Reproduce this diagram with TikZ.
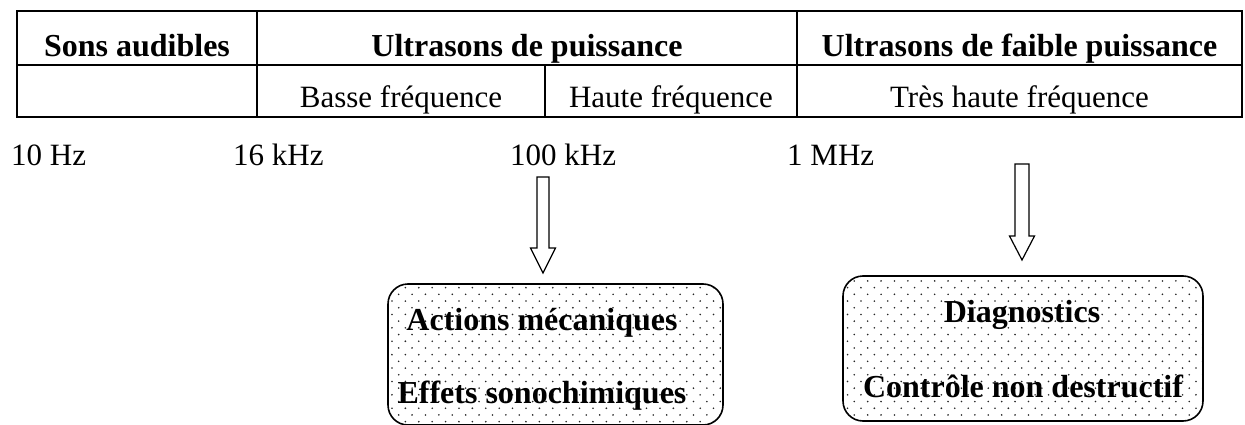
\documentclass[tikz,border=0pt]{standalone}
\usepackage{fontspec}
\setmainfont{Liberation Serif}
\usetikzlibrary{patterns,calc}
\pgfdeclarepatternformonly{stagdots}{\pgfqpoint{-1pt}{-1pt}}{\pgfqpoint{14.4pt}{14.4pt}}{\pgfqpoint{13.4pt}{13.4pt}}{%
  \pgfpathcircle{\pgfqpoint{3.35pt}{3.35pt}}{0.9pt}%
  \pgfpathcircle{\pgfqpoint{10.05pt}{10.05pt}}{0.9pt}%
  \pgfusepath{fill}}
\tikzset{
  tline/.style={line width=2pt},
  hdr/.style={font=\fontsize{32}{38}\selectfont\bfseries, anchor=base, inner sep=0pt},
  sub/.style={font=\fontsize{31}{37}\selectfont, anchor=base, inner sep=0pt},
  freq/.style={font=\fontsize{31}{37}\selectfont, anchor=base west, inner sep=0pt},
  dotbox/.style={draw, line width=1.6pt, rounded corners=20pt, pattern=stagdots, pattern color=black!85, inner sep=0pt},
  boxtxt/.style={font=\fontsize{32}{38}\selectfont\bfseries, anchor=base, inner sep=0pt},
  blockarrow/.style={draw, line width=1.2pt, fill=white, line join=miter}
}
\begin{document}
\begin{tikzpicture}[x=1pt,y=-1pt]
\useasboundingbox (0,0) rectangle (1245,425);
% table
\draw[tline] (17,11) rectangle (1242,117);
\draw[tline] (17,65) -- (1242,65);
\draw[tline] (257,11) -- (257,117);
\draw[tline] (797,11) -- (797,117);
\draw[tline] (545,65) -- (545,117);
\node[hdr] (h1) at (137,57) {Sons audibles};
\node[hdr] (h2) at (527,57) {Ultrasons de puissance};
\node[hdr] (h3) at (1019.5,57) {Ultrasons de faible puissance};
\node[sub] (s1) at (401,108) {Basse fréquence};
\node[sub] (s2) at (671,108) {Haute fréquence};
\node[sub] (s3) at (1019.5,108) {Très haute fréquence};
% frequencies
\node[freq] (f1) at (11,165) {10 Hz};
\node[freq] (f2) at (233,165) {16 kHz};
\node[freq] (f3) at (510,165) {100 kHz};
\node[freq] (f4) at (787,165) {1 MHz};
% boxes
\node[dotbox, minimum width=335pt, minimum height=141pt] (b1) at (555.5,354.5) {};
\node[dotbox, minimum width=360pt, minimum height=145pt] (b2) at (1023,348.5) {};
\node[boxtxt] (t1) at (542,330) {Actions mécaniques};
\node[boxtxt] (t2) at (542,403) {Effets sonochimiques};
\node[boxtxt] (t3) at (1022,322) {Diagnostics};
\node[boxtxt] (t4) at (1023,397) {Contrôle non destructif};
% block arrows
\coordinate (a1s) at (543,177);
\coordinate (a1t) at (543,273);
\coordinate (a2s) at (1022,164);
\coordinate (a2t) at (1022,260);
\draw[blockarrow] ($(a1s)+(-6,0)$) -- ($(a1s)+(6,0)$) -- ($(a1t)+(6,-25)$) -- ($(a1t)+(12.5,-25)$) -- (a1t)
  -- ($(a1t)+(-12.5,-25)$) -- ($(a1t)+(-6,-25)$) -- cycle;
\draw[blockarrow] ($(a2s)+(-7,0)$) -- ($(a2s)+(7,0)$) -- ($(a2t)+(7,-24)$) -- ($(a2t)+(12.5,-24)$) -- (a2t)
  -- ($(a2t)+(-12.5,-24)$) -- ($(a2t)+(-7,-24)$) -- cycle;
\end{tikzpicture}
\end{document}
